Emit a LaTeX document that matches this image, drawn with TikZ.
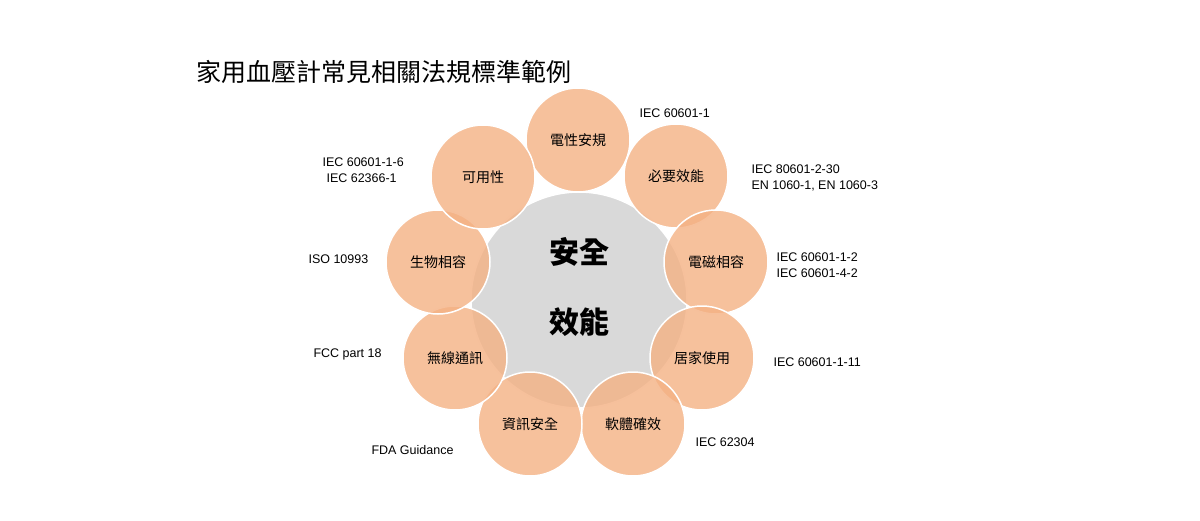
\documentclass[tikz,border=0pt]{standalone}
\usepackage{fontspec}
\setmainfont{Liberation Sans}
\newfontfamily\cjk{Noto Sans CJK TC}
\definecolor{orng}{HTML}{F4B183}
\definecolor{gry}{HTML}{D9D9D9}
\tikzset{
 sat/.style={circle,minimum size=104pt,fill=orng,fill opacity=0.8,text opacity=1,draw=white,line width=1.5pt,font=\cjk\fontsize{14}{16}\selectfont},
 std/.style={font=\fontsize{12.5}{16}\selectfont,align=left}
}
\begin{document}
\begin{tikzpicture}[x=1pt,y=-1pt]
\useasboundingbox (0,0) rectangle (1200,520);
\node[anchor=west,font=\cjk\fontsize{25}{28}\selectfont] (t) at (193,72) {家用血壓計常見相關法規標準範例};
\node[circle,minimum size=216pt,fill=gry,draw=white,line width=1.5pt] (c) at (579,300) {};
\node[font=\cjk\bfseries\fontsize{30}{34}\selectfont] (c1) at (579,252) {安全};
\node[font=\cjk\bfseries\fontsize{30}{34}\selectfont] (c2) at (579,322) {效能};
\node[sat] (a) at (578,140) {電性安規};
\node[sat] (b) at (676,176) {必要效能};
\node[sat] (d) at (716,262) {電磁相容};
\node[sat] (e) at (702,358) {居家使用};
\node[sat] (f) at (633,424) {軟體確效};
\node[sat] (g) at (530,424) {資訊安全};
\node[sat] (h) at (455,358) {無線通訊};
\node[sat] (i) at (438,262) {生物相容};
\node[sat] (j) at (483,177) {可用性};
\node[std,anchor=west] (sa) at (636,113) {IEC 60601-1};
\node[std,anchor=west] (sb) at (748,178) {IEC 80601-2-30\\EN 1060-1, EN 1060-3};
\node[std,anchor=west] (sd) at (773,265) {IEC 60601-1-2\\IEC 60601-4-2};
\node[std,anchor=west] (se) at (770,362) {IEC 60601-1-11};
\node[std,anchor=west] (sf) at (692,442) {IEC 62304};
\node[std,anchor=west] (sg) at (368,450) {FDA Guidance};
\node[std,anchor=west] (sh) at (310,354) {FCC part 18};
\node[std,anchor=west] (si) at (305,259) {ISO 10993};
\node[std,anchor=west] (sj) at (319,170) {IEC 60601-1-6\\\hspace*{4pt}IEC 62366-1};
\end{tikzpicture}
\end{document}
